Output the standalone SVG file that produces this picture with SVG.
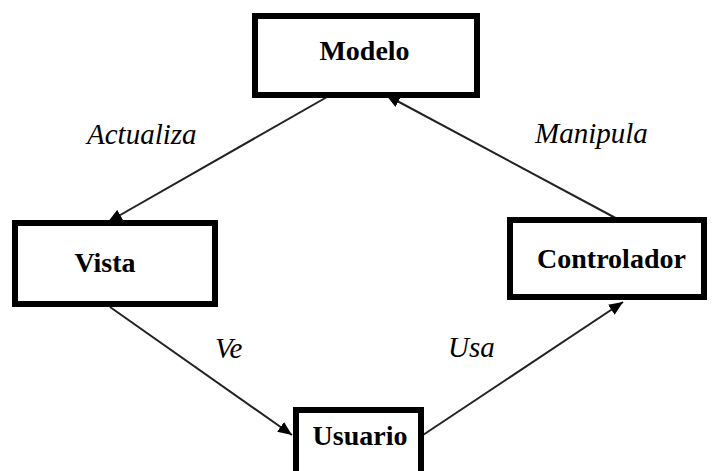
<svg xmlns="http://www.w3.org/2000/svg" width="718" height="471" viewBox="0 0 718 471">
  <style>
    .box { fill: #ffffff; stroke: #000000; stroke-width: 6; }
    .name { font-family: "Liberation Serif", "Times New Roman", serif; font-weight: bold; font-size: 28px; fill: #000000; text-anchor: middle; }
    .lbl { font-family: "Liberation Serif", "Times New Roman", serif; font-style: italic; font-size: 29px; fill: #000000; }
    .edge { fill: none; stroke: #222222; stroke-width: 2; marker-end: url(#arrow); }
  </style>
  <defs>
    <marker id="arrow" markerUnits="userSpaceOnUse" markerWidth="16" markerHeight="12" refX="14" refY="6" orient="auto">
      <path d="M0,0 L14,6 L0,12 Z" fill="#000000"/>
    </marker>
  </defs>
  <g id="connectors">
    <line class="edge" x1="327" y1="97" x2="108" y2="222"/>
    <line class="edge" x1="623" y1="222" x2="386" y2="95"/>
    <line class="edge" x1="110" y1="307" x2="292" y2="435"/>
    <line class="edge" x1="423" y1="435" x2="623" y2="302"/>
  </g>
  <g id="labels">
    <text class="lbl" x="87" y="144">Actualiza</text>
    <text class="lbl" x="535" y="143">Manipula</text>
    <text class="lbl" x="215" y="358">Ve</text>
    <text class="lbl" x="448" y="357">Usa</text>
  </g>
  <g id="modelo">
    <rect class="box" x="255" y="16" width="222" height="79"/>
    <text class="name" x="364.5" y="60">Modelo</text>
  </g>
  <g id="vista">
    <rect class="box" x="15" y="223" width="200" height="81"/>
    <text class="name" x="105" y="272">Vista</text>
  </g>
  <g id="controlador">
    <rect class="box" x="510" y="220" width="194" height="77"/>
    <text class="name" x="611.5" y="268">Controlador</text>
  </g>
  <g id="usuario">
    <rect class="box" x="296" y="410" width="125" height="70"/>
    <text class="name" x="360" y="445">Usuario</text>
  </g>
</svg>
